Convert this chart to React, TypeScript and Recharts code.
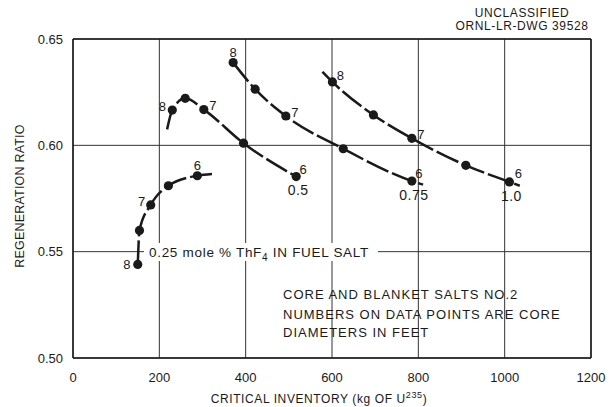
import React from 'react';
import { LineChart, Line, XAxis, YAxis, CartesianGrid, ReferenceLine } from 'recharts';

// critical inventory (kg U-235) vs regeneration ratio, d = core diameter (ft), ext = curve tail w/o point
const series025 = [
  { x: 150, y: 0.544, d: 8 },
  { x: 154, y: 0.56 },
  { x: 180, y: 0.572, d: 7 },
  { x: 221, y: 0.581 },
  { x: 288, y: 0.5857, d: 6 },
  { x: 322, y: 0.5865, ext: true },
];
const series05 = [
  { x: 218, y: 0.6075, ext: true },
  { x: 230, y: 0.6166, d: 8 },
  { x: 260, y: 0.6221 },
  { x: 303, y: 0.6168, d: 7 },
  { x: 395, y: 0.601 },
  { x: 517, y: 0.5853, d: 6 },
];
const series075 = [
  { x: 371, y: 0.6389, d: 8 },
  { x: 422, y: 0.6264 },
  { x: 493, y: 0.6138, d: 7 },
  { x: 626, y: 0.5984 },
  { x: 785, y: 0.5832, d: 6 },
  { x: 811, y: 0.5815, ext: true },
];
const series10 = [
  { x: 578, y: 0.6346, ext: true },
  { x: 601, y: 0.6298, d: 8 },
  { x: 696, y: 0.6143 },
  { x: 785, y: 0.6033, d: 7 },
  { x: 910, y: 0.5906 },
  { x: 1011, y: 0.5828, d: 6 },
  { x: 1035, y: 0.581, ext: true },
];

const xTicks = [0, 200, 400, 600, 800, 1000, 1200];
const yTicks = [0.5, 0.55, 0.6, 0.65];

const FONT = '"Liberation Sans", Arial, sans-serif';
const INK = '#1a1a1a';

// label offsets for the diameter numbers, per curve
const labelOffsets: Record<string, Record<number, [number, number]>> = {
  '0.25': { 8: [-11, 0], 7: [-9, -3], 6: [0, -10] },
  '0.5': { 8: [-10, -4], 7: [9, -4], 6: [7, -7] },
  '0.75': { 8: [0, -10], 7: [9, -4], 6: [7, -8] },
  '1.0': { 8: [8, -7], 7: [9, -4], 6: [9, -8] },
};

const makeDot = (name: string, showName: boolean) => (props: any) => {
  const { cx, cy, payload, index } = props;
  if (payload.ext) return <g key={`e-${name}-${index}`} />;
  const off = payload.d ? labelOffsets[name][payload.d] : null;
  return (
    <g key={`p-${name}-${index}`}>
      <circle cx={cx} cy={cy} r={4.6} fill={INK} />
      {off && (
        <text x={cx + off[0]} y={cy + off[1]} dy="0.35em" textAnchor="middle" fontSize={13} fontFamily={FONT} fill={INK}>
          {payload.d}
        </text>
      )}
      {showName && payload.d === 6 && (
        <text x={cx + 2} y={cy + 14} dy="0.35em" textAnchor="middle" fontSize={14} fontFamily={FONT} fill={INK} letterSpacing={0.5}>
          {name}
        </text>
      )}
    </g>
  );
};

const curves = [
  { name: '0.25', data: series025, showName: false },
  { name: '0.5', data: series05, showName: true },
  { name: '0.75', data: series075, showName: true },
  { name: '1.0', data: series10, showName: true },
];

const App = () => {
  return (
    <div style={{ position: 'absolute', left: 0, top: 0, background: '#fff' }}>
      <LineChart width={614} height={407} margin={{ top: 39, right: 23, bottom: 0, left: 0 }}>
        <CartesianGrid stroke="#333" strokeWidth={1} />
        <XAxis
          type="number"
          dataKey="x"
          domain={[0, 1200]}
          ticks={xTicks}
          height={49}
          tickLine={false}
          tickSize={0}
          tickMargin={15}
          axisLine={{ stroke: INK, strokeWidth: 1.5 }}
          tick={{ fontSize: 13, fontFamily: FONT, fill: INK }}
          allowDataOverflow
        />
        <YAxis
          type="number"
          dataKey="y"
          domain={[0.5, 0.65]}
          ticks={yTicks}
          width={73}
          tickLine={false}
          tickSize={0}
          tickMargin={10}
          axisLine={{ stroke: INK, strokeWidth: 1.5 }}
          tickFormatter={(v: number) => v.toFixed(2)}
          tick={{ fontSize: 13, fontFamily: FONT, fill: INK }}
          allowDataOverflow
        />
        <ReferenceLine y={0.65} stroke={INK} strokeWidth={1.5} />
        <ReferenceLine x={1200} stroke={INK} strokeWidth={1.5} />
        {curves.map((c) => (
          <Line
            key={c.name}
            data={c.data}
            dataKey="y"
            type="monotone"
            stroke={INK}
            strokeWidth={2.5}
            strokeDasharray="24 4"
            dot={makeDot(c.name, c.showName)}
            activeDot={false}
            isAnimationActive={false}
          />
        ))}

        {/* label on the 0.25 curve, breaks the 0.55 grid line */}
        <rect x={144} y={243} width={234} height={18} fill="#fff" />
        <text x={149} y={257} fontSize={13.5} fontFamily={FONT} fill={INK} letterSpacing={0.7}>
          0.25 mole % ThF<tspan fontSize={10} dy={4}>4</tspan>
          <tspan dy={-4}> IN FUEL SALT</tspan>
        </text>

        <g fontSize={13} fontFamily={FONT} fill={INK} letterSpacing={1}>
          <text x={283} y={299}>CORE AND BLANKET SALTS NO.2</text>
          <text x={283} y={319}>NUMBERS ON DATA POINTS ARE CORE</text>
          <text x={283} y={337}>DIAMETERS IN FEET</text>
        </g>

        <g fontSize={12} fontFamily={FONT} fill={INK} textAnchor="middle" letterSpacing={0.6}>
          <text x={522} y={17}>UNCLASSIFIED</text>
          <text x={522} y={30}>ORNL-LR-DWG 39528</text>
        </g>

        <text x={319} y={403} textAnchor="middle" fontSize={12} fontFamily={FONT} fill={INK} letterSpacing={0.6}>
          CRITICAL INVENTORY (kg OF U<tspan fontSize={9} dy={-5}>235</tspan>
          <tspan dy={5}>)</tspan>
        </text>

        <text
          x={24}
          y={196}
          transform="rotate(-90 24 196)"
          textAnchor="middle"
          fontSize={12.5}
          fontFamily={FONT}
          fill={INK}
          letterSpacing={0.2}
        >
          REGENERATION RATIO
        </text>
      </LineChart>
    </div>
  );
};

export default App;
